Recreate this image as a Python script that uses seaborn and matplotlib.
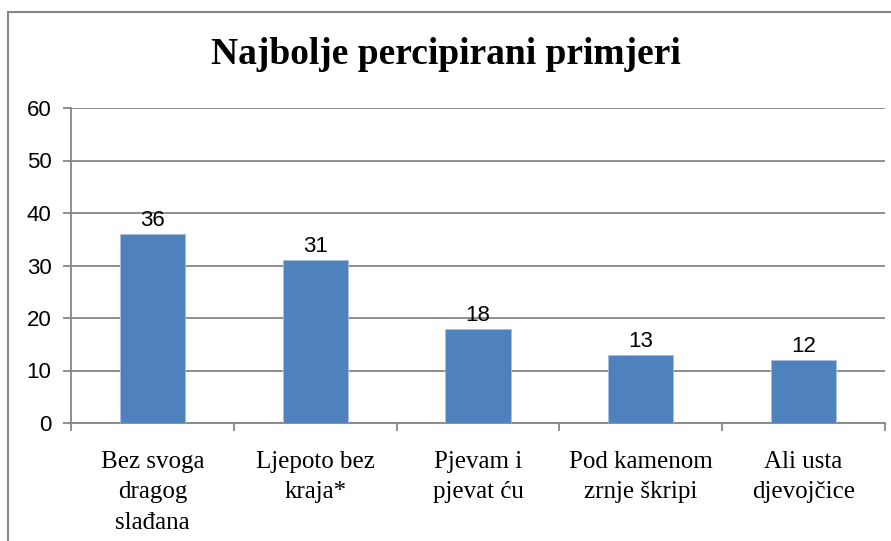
import matplotlib
matplotlib.use("Agg")
import matplotlib.pyplot as plt
import seaborn as sns
import pandas as pd

# data
categories = ["Bez svoga\ndragog\nslađana", "Ljepoto bez\nkraja*", "Pjevam i\npjevat ću",
              "Pod kamenom\nzrnje škripi", "Ali usta\ndjevojčice"]
values = [36, 31, 18, 13, 12]
y_ticks = [0, 10, 20, 30, 40, 50, 60]
title = "Najbolje percipirani primjeri"

df = pd.DataFrame({"primjer": categories, "broj": values})

sns.set_style("white")
plt.rcParams["font.family"] = ["Liberation Sans", "DejaVu Sans"]
plt.rcParams["text.color"] = "black"
plt.rcParams["xtick.color"] = "black"
plt.rcParams["ytick.color"] = "black"

grid_col = "#868686"
bar_col = "#4F81BD"

fig = plt.figure(figsize=(8.91, 5.41), dpi=100)
# outer chart frame
fig.patches.append(plt.Rectangle((8 / 891, -0.05), 1.0, 1 - 12 / 541 + 0.05,
                                 transform=fig.transFigure, fill=False,
                                 edgecolor=grid_col, lw=1.5))
ax = fig.add_axes([71 / 891, 1 - 423 / 541, 814 / 891, 315 / 541])

sns.barplot(data=df, x="primjer", y="broj", color=bar_col, width=0.4,
            saturation=1, edgecolor="#A7C0DE", linewidth=0.6, ax=ax, zorder=3)

ax.set_ylim(0, 60)
ax.set_xlim(-0.5, len(categories) - 0.5)
ax.set_yticks(y_ticks)
ax.yaxis.grid(True, color=grid_col, lw=1.3, zorder=0)
ax.set_axisbelow(True)
for s in ["top", "right"]:
    ax.spines[s].set_visible(False)
for s in ["left", "bottom"]:
    ax.spines[s].set_color(grid_col)
    ax.spines[s].set_linewidth(1.3)

ax.tick_params(axis="y", which="major", direction="out", length=6, color=grid_col,
               width=1.3, labelsize=16, pad=8, left=True, labelcolor="black")
ax.tick_params(axis="x", which="major", length=0, pad=20, labelcolor="black")
ax.set_xticks(range(len(categories)))
ax.set_xticks([i - 0.5 for i in range(len(categories) + 1)], minor=True)
ax.tick_params(axis="x", which="minor", direction="out", length=6, color=grid_col,
               width=1.3, bottom=True)
ax.set_xticklabels(categories, fontfamily="Liberation Serif", fontsize=18, linespacing=1.5)
ax.set_xlabel("")
ax.set_ylabel("")

ax.bar_label(ax.containers[0], labels=[str(v) for v in values], padding=2,
             fontsize=16, color="black")

fig.text(0.5, 1 - 55 / 541, title, ha="center", va="center", color="black",
         fontfamily="Liberation Serif", fontweight="bold", fontsize=27)

fig.savefig("out.png", dpi=100)
